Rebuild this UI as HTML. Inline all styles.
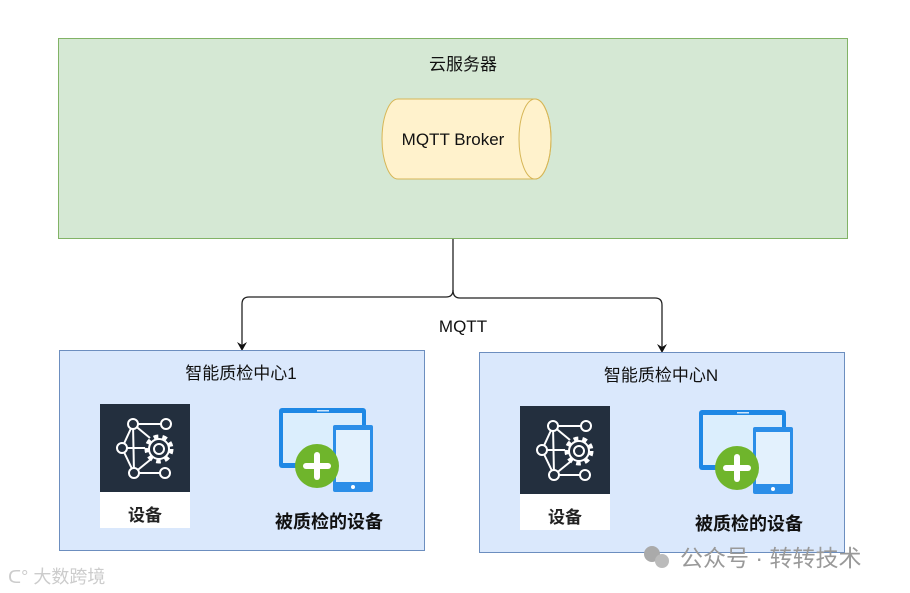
<!DOCTYPE html>
<html><head><meta charset="utf-8"><style>
html,body{margin:0;padding:0;background:#fff;}
svg{display:block;font-family:"Liberation Sans","Noto Sans CJK SC",sans-serif;}
</style></head><body>
<svg width="910" height="593" viewBox="0 0 910 593" xmlns="http://www.w3.org/2000/svg">
<defs>
<g id="dev">
  <rect x="0" y="0" width="90" height="88" fill="#232f3e"/>
  <rect x="0" y="88" width="90" height="36" fill="#fff"/>
  <g stroke="#fff" stroke-width="2" fill="none">
    <line x1="22" y1="44" x2="33" y2="20"/><line x1="22" y1="44" x2="34" y2="69"/>
    <line x1="33" y1="20" x2="66" y2="20"/><line x1="34" y1="69" x2="65" y2="69"/>
    <line x1="22" y1="44" x2="45" y2="44"/>
    <line x1="33" y1="20" x2="50" y2="34"/><line x1="34" y1="69" x2="50" y2="56"/>
    <line x1="33" y1="20" x2="34" y2="69"/>
    <circle cx="33" cy="20" r="5" fill="#232f3e"/><circle cx="66" cy="20" r="5" fill="#232f3e"/>
    <circle cx="22" cy="44" r="5" fill="#232f3e"/><circle cx="34" cy="69" r="5" fill="#232f3e"/>
    <circle cx="65" cy="69" r="5" fill="#232f3e"/>
    <circle cx="59" cy="45" r="12" fill="#232f3e" stroke-width="5" stroke-dasharray="4.5 4"/>
    <circle cx="59" cy="45" r="10" fill="#232f3e"/>
    <circle cx="59" cy="45" r="5"/>
  </g>
  <text x="45" y="117" text-anchor="middle" font-size="17" font-weight="bold" fill="#222">设备</text>
</g>
<g id="tab">
  <rect x="0" y="0" width="87" height="60" rx="3" fill="#1e88e5"/>
  <rect x="4" y="5" width="79" height="50" fill="#dbeefd"/>
  <rect x="38" y="2" width="12" height="1.5" fill="#cfe6fb"/>
  <rect x="54" y="17" width="40" height="67" rx="2" fill="#2b8ee8"/>
  <rect x="57" y="22" width="34" height="52" fill="#e3f1fd"/>
  <circle cx="74" cy="79" r="2" fill="#fff"/>
  <circle cx="38" cy="58" r="22" fill="#6fb52c"/>
  <rect x="24" y="55" width="28" height="6" rx="3" fill="#fff"/>
  <rect x="35" y="44" width="6" height="28" rx="3" fill="#fff"/>
</g>
</defs>
<rect x="58.5" y="38.5" width="789" height="200" fill="#d5e8d4" stroke="#82b366"/>
<text x="463" y="70" text-anchor="middle" font-size="17" fill="#111">云服务器</text>
<path d="M398,99 L535,99 A16,40 0 0 1 535,179 L398,179 A16,40 0 0 1 398,99 Z" fill="#fff2cc" stroke="#d6b656"/>
<ellipse cx="535" cy="139" rx="16" ry="40" fill="none" stroke="#d6b656"/>
<text x="453" y="145" text-anchor="middle" font-size="17" fill="#111">MQTT Broker</text>

<g fill="none" stroke="#222" stroke-width="1.3">
<path d="M453,239 L453,290 Q453,297 446,297 L249,297 Q242,297 242,304 L242,345"/>
<path d="M453,290 Q453,298 460,298 L655,298 Q662,298 662,305 L662,347"/>
</g>
<path d="M237,342 L242,351 L247,342 L242,345 Z" fill="#111"/>
<path d="M657,344 L662,353 L667,344 L662,347 Z" fill="#111"/>
<text x="463" y="332" text-anchor="middle" font-size="17" fill="#111">MQTT</text>

<rect x="59.5" y="350.5" width="365" height="200" fill="#dae8fc" stroke="#6c8ebf"/>
<text x="241" y="379" text-anchor="middle" font-size="17" fill="#111">智能质检中心1</text>
<use href="#dev" x="100" y="404"/>
<use href="#tab" x="279" y="408"/>
<text x="329" y="528" text-anchor="middle" font-size="18" font-weight="bold" fill="#111">被质检的设备</text>

<rect x="479.5" y="352.5" width="365" height="200" fill="#dae8fc" stroke="#6c8ebf"/>
<text x="661" y="381" text-anchor="middle" font-size="17" fill="#111">智能质检中心N</text>
<use href="#dev" x="520" y="406"/>
<use href="#tab" x="699" y="410"/>
<text x="749" y="530" text-anchor="middle" font-size="18" font-weight="bold" fill="#111">被质检的设备</text>

<circle cx="652" cy="554" r="8" fill="#aaa"/><circle cx="662" cy="561" r="7" fill="#bbb"/>
<text x="680" y="566" font-size="23" fill="#999">公众号 · 转转技术</text>
<text x="8" y="583" font-size="18" fill="#ccc">ᑕ° 大数跨境</text>
</svg>
</body></html>
